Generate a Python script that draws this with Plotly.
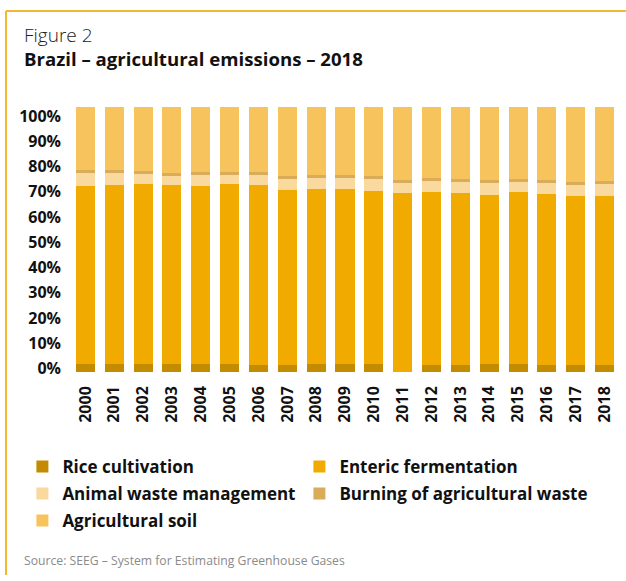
import plotly.graph_objects as go

years = [str(y) for y in range(2000, 2019)]

rice = [3.2, 2.9, 2.9, 2.9, 2.9, 2.9, 2.5, 2.5, 2.9, 2.9, 2.9, 0.0, 2.5, 2.5, 2.9, 2.9, 2.5, 2.5, 2.5]
enteric = [66.9, 67.6, 67.9, 67.6, 67.2, 67.9, 68.0, 66.1, 66.0, 66.0, 65.3, 67.4, 65.3, 64.9, 63.8, 64.9, 64.6, 63.8, 63.8]
animal_waste = [4.9, 4.5, 3.8, 3.4, 4.1, 3.4, 3.7, 4.1, 4.2, 4.2, 4.5, 3.8, 4.2, 4.2, 4.5, 3.8, 4.1, 4.2, 4.5]
burning = [1.1, 1.1, 1.1, 1.1, 1.1, 1.1, 1.1, 1.1, 1.1, 1.1, 1.1, 1.1, 1.1, 1.1, 1.1, 1.1, 1.1, 1.1, 1.1]
soil = [23.9, 23.9, 24.3, 25.0, 24.6, 24.6, 24.6, 26.2, 25.8, 25.8, 26.2, 27.7, 26.9, 27.3, 27.7, 27.3, 27.7, 28.4, 28.0]

series_names = ["Rice cultivation", "Enteric fermentation", "Animal waste management",
                "Burning of agricultural waste", "Agricultural soil"]
series_vals = [rice, enteric, animal_waste, burning, soil]
series_colors = ["#C38C00", "#F1AA00", "#F9D99D", "#D8AC58", "#F7C35D"]
series_legend = ["legend", "legend2", "legend", "legend2", "legend"]

tick_text = ["0%", "10%", "20%", "30%", "40%", "50%", "60%", "70%", "80%", "90%", "100%"]
tick_vals = [1.3, 10.8, 20.4, 29.9, 39.4, 48.9, 58.5, 68.0, 77.5, 87.1, 96.6]

FONT = "Open Sans, Noto Sans, DejaVu Sans, sans-serif"

fig = go.Figure()
for name, vals, col, lg in zip(series_names, series_vals, series_colors, series_legend):
    fig.add_trace(go.Bar(x=years, y=vals, name=name, legend=lg, legendgroup=name,
                         marker=dict(color=col, line=dict(width=0))))

legend_common = dict(
    orientation="v", xanchor="left", yanchor="top",
    font=dict(family=FONT, size=17, color="#111111", weight="bold"),
    traceorder="grouped", tracegroupgap=2, itemwidth=30, bgcolor="rgba(0,0,0,0)",
)

fig.update_layout(
    width=626, height=581,
    margin=dict(l=71, r=7, t=107, b=209, autoexpand=False),
    barmode="stack", barnorm="percent", bargap=0.34,
    plot_bgcolor="white", paper_bgcolor="white",
    font=dict(family=FONT, color="#111111"),
    showlegend=True,
    legend=dict(x=-0.0887, y=-0.29, **legend_common),
    legend2=dict(x=0.4168, y=-0.29, **legend_common),
    xaxis=dict(
        type="category", showgrid=False, showline=False, zeroline=False,
        tickangle=-90, ticks="", ticklabelstandoff=10,
        tickfont=dict(family=FONT, size=16, color="#111111", weight="bold"),
    ),
    yaxis=dict(
        range=[0, 100], showgrid=False, showline=False, zeroline=False,
        tickvals=tick_vals, ticktext=tick_text, ticks="", ticklabelstandoff=9,
        tickfont=dict(family=FONT, size=16, color="#111111", weight="bold"),
    ),
)

fig.add_annotation(text="Figure 2", xref="paper", yref="paper", x=-0.0894, y=1.2717,
                   xanchor="left", yanchor="middle", showarrow=False,
                   font=dict(family=FONT, size=19, color="#222222", weight=300))
fig.add_annotation(text="<b>Brazil – agricultural emissions – 2018</b>", xref="paper", yref="paper",
                   x=-0.0894, y=1.1849, xanchor="left", yanchor="middle", showarrow=False,
                   font=dict(family=FONT, size=18.6, color="#111111"))
fig.add_annotation(text="Source: SEEG – System for Estimating Greenhouse Gases", xref="paper", yref="paper",
                   x=-0.0894, y=-0.713, xanchor="left", yanchor="middle", showarrow=False,
                   font=dict(family=FONT, size=12.2, color="#8a8a8a"))

frame_color = "#F3B731"
fig.add_shape(type="line", xref="paper", yref="paper", x0=-0.1186, x1=1.02, y0=1.362, y1=1.362,
              line=dict(color=frame_color, width=2))
fig.add_shape(type="line", xref="paper", yref="paper", x0=-0.1186, x1=-0.1186, y0=1.362, y1=-0.766,
              line=dict(color=frame_color, width=2))

fig.write_html("out.html")
